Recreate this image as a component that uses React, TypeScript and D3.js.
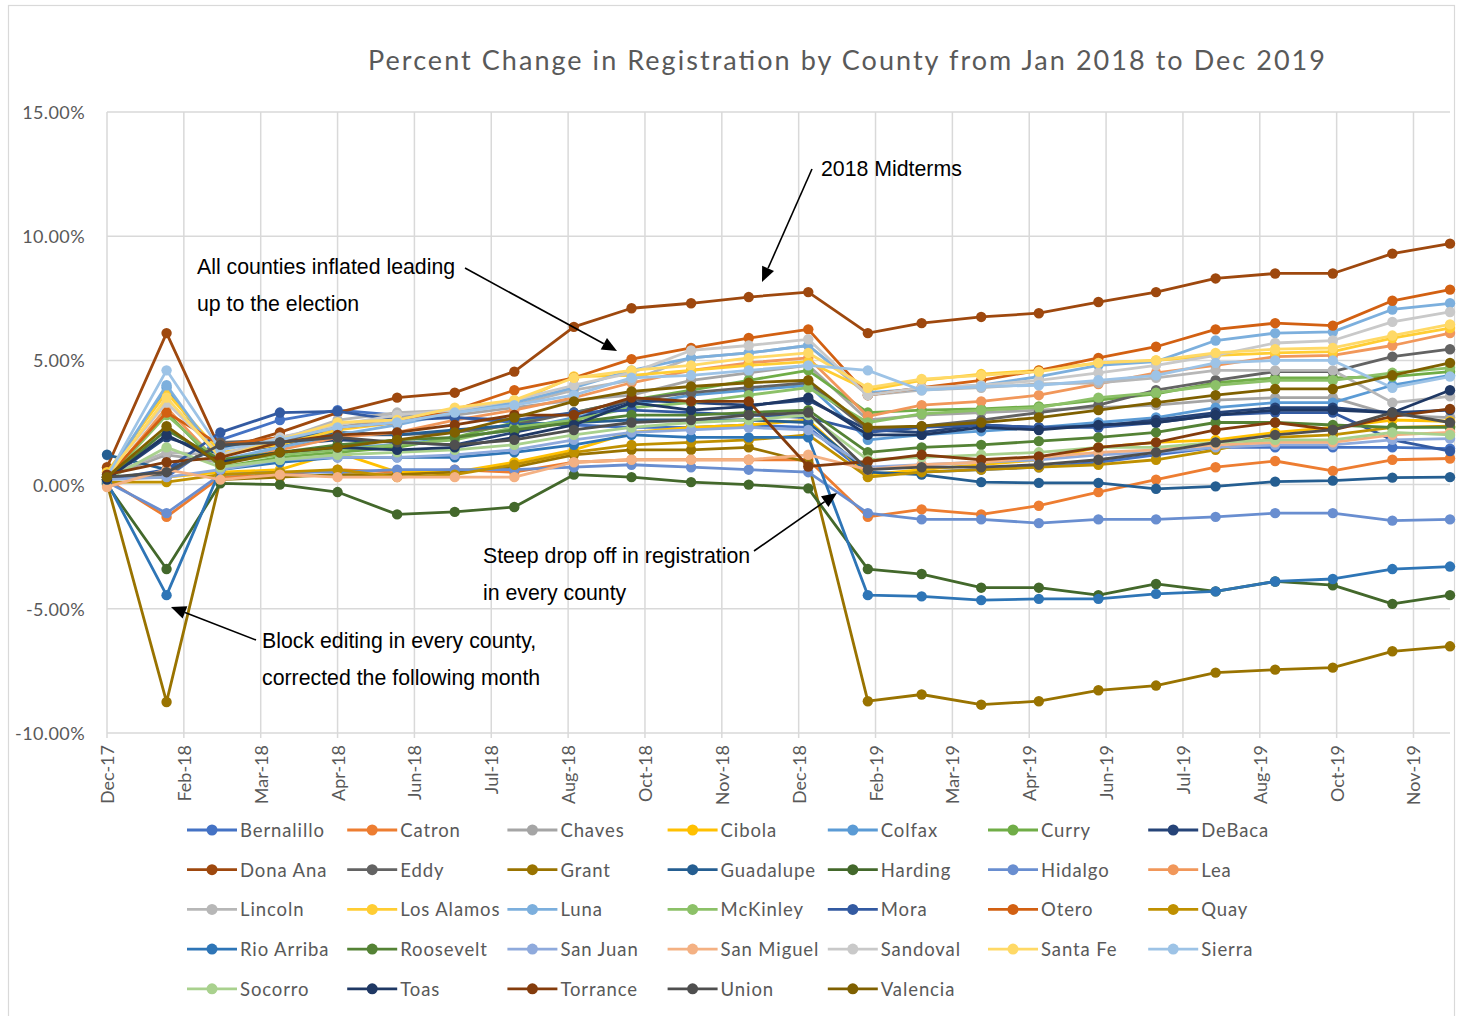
import React from "react";
import * as d3 from "d3";

const monthEnds = [
  "2017-12-31", "2018-01-31", "2018-02-28", "2018-03-31", "2018-04-30", "2018-05-31",
  "2018-06-30", "2018-07-31", "2018-08-31", "2018-09-30", "2018-10-31", "2018-11-30",
  "2018-12-31", "2019-01-31", "2019-02-28", "2019-03-31", "2019-04-30", "2019-05-31",
  "2019-06-30", "2019-07-31", "2019-08-31", "2019-09-30", "2019-10-31", "2019-11-30",
];

const xTickLabels = [
  "Dec-17", "Feb-18", "Mar-18", "Apr-18", "Jun-18", "Jul-18", "Aug-18", "Oct-18", "Nov-18",
  "Dec-18", "Feb-19", "Mar-19", "Apr-19", "Jun-19", "Jul-19", "Aug-19", "Oct-19", "Nov-19",
];
const xTickStepDays = 40;
const yTicks = [-10, -5, 0, 5, 10, 15];

const counties = [
  "Bernalillo", "Catron", "Chaves", "Cibola", "Colfax", "Curry", "DeBaca",
  "Dona Ana", "Eddy", "Grant", "Guadalupe", "Harding", "Hidalgo", "Lea",
  "Lincoln", "Los Alamos", "Luna", "McKinley", "Mora", "Otero", "Quay",
  "Rio Arriba", "Roosevelt", "San Juan", "San Miguel", "Sandoval", "Santa Fe", "Sierra",
  "Socorro", "Toas", "Torrance", "Union", "Valencia",
];

const countyColors = [
  "#4472C4", "#ED7D31", "#A5A5A5", "#FFC000", "#5B9BD5", "#70AD47", "#264478",
  "#9E480E", "#636363", "#997300", "#255E91", "#43682B", "#698ED0", "#F1975A",
  "#B7B7B7", "#FFCD33", "#7CAFDD", "#8CC168", "#335AA1", "#D26012", "#BF9000",
  "#2E75B6", "#548235", "#8FAADC", "#F4B183", "#C9C9C9", "#FFD966", "#9DC3E6",
  "#A9D18E", "#1F3864", "#843C0C", "#4F4F4F", "#7F6000",
];

// percent change values, one per month end
const bernalillo = [0.3, 0.3, 1.8, 2.6, 3.0, 2.8, 2.7, 2.5, 2.4, 2.3, 2.3, 2.4, 2.3, 0.4, 0.5, 0.6, 0.7, 0.9, 1.2, 1.5, 1.5, 1.5, 1.5, 1.45];
const catron = [0.2, -1.3, 0.3, 0.4, 0.6, 0.5, 0.6, 0.5, 0.9, 1.0, 1.0, 1.0, 1.0, -1.3, -1.0, -1.2, -0.85, -0.3, 0.2, 0.7, 0.95, 0.55, 1.0, 1.05];
const chaves = [0.3, 1.2, 0.9, 1.5, 2.3, 2.7, 2.8, 3.1, 3.4, 3.6, 4.2, 4.5, 4.8, 2.6, 2.8, 2.9, 3.0, 3.1, 3.2, 3.4, 3.5, 3.5, 2.8, 2.7];
const cibola = [0.3, 0.3, 0.5, 0.6, 1.3, 0.5, 0.5, 0.9, 1.4, 2.1, 2.3, 2.4, 2.6, 0.4, 0.6, 0.8, 1.0, 1.5, 1.7, 1.8, 2.1, 2.3, 2.6, 2.55];
const colfax = [0.3, 3.9, 0.9, 1.3, 1.5, 1.6, 1.9, 2.2, 2.7, 3.2, 3.6, 3.8, 4.0, 1.8, 2.0, 2.15, 2.3, 2.5, 2.7, 3.1, 3.3, 3.3, 4.0, 4.4];
const curry = [0.2, 2.9, 0.7, 1.1, 1.3, 1.5, 1.9, 2.5, 2.9, 3.4, 3.8, 4.2, 4.6, 2.9, 3.0, 3.05, 3.15, 3.4, 3.65, 4.1, 4.3, 4.3, 4.35, 4.55];
const debaca = [0.2, 1.9, 1.2, 1.6, 1.8, 1.7, 1.6, 2.1, 2.6, 3.4, 3.3, 3.2, 3.4, 2.2, 2.1, 2.4, 2.3, 2.35, 2.6, 2.9, 3.1, 3.1, 2.9, 3.0];
const donaAna = [0.7, 6.1, 1.4, 2.1, 2.9, 3.5, 3.7, 4.55, 6.35, 7.1, 7.3, 7.55, 7.75, 6.1, 6.5, 6.75, 6.9, 7.35, 7.75, 8.3, 8.5, 8.5, 9.3, 9.7];
const eddy = [0.3, 0.4, 1.7, 1.8, 2.0, 2.0, 2.1, 2.4, 2.9, 3.4, 3.7, 3.9, 4.1, 2.2, 2.35, 2.6, 2.9, 3.2, 3.8, 4.2, 4.55, 4.55, 5.15, 5.45];
const grant = [0.05, -8.75, 0.2, 0.3, 0.4, 0.4, 0.5, 0.7, 1.2, 1.4, 1.4, 1.5, 0.9, -8.72, -8.45, -8.86, -8.72, -8.28, -8.09, -7.57, -7.45, -7.37, -6.71, -6.51];
const guadalupe = [1.2, 0.6, 1.5, 1.9, 2.1, 2.0, 2.2, 2.4, 2.5, 2.6, 2.6, 2.6, 2.5, 0.5, 0.4, 0.1, 0.07, 0.07, -0.17, -0.07, 0.12, 0.16, 0.28, 0.3];
const harding = [0.0, -3.4, 0.05, 0.0, -0.3, -1.2, -1.1, -0.9, 0.4, 0.3, 0.1, 0.0, -0.15, -3.4, -3.6, -4.15, -4.15, -4.45, -4.0, -4.3, -3.9, -4.05, -4.8, -4.45];
const hidalgo = [0.1, -1.15, 0.4, 0.5, 0.5, 0.6, 0.6, 0.6, 0.7, 0.8, 0.7, 0.6, 0.5, -1.15, -1.4, -1.4, -1.55, -1.4, -1.4, -1.3, -1.15, -1.15, -1.45, -1.4];
const lea = [0.2, 3.1, 0.8, 1.4, 1.9, 2.1, 2.6, 3.0, 3.5, 4.1, 4.6, 4.9, 5.1, 2.75, 3.2, 3.35, 3.6, 4.05, 4.5, 4.8, 5.15, 5.2, 5.6, 6.1];
const lincoln = [0.4, 1.3, 1.2, 1.8, 2.6, 2.9, 3.0, 3.2, 3.8, 4.2, 5.1, 5.3, 5.6, 3.6, 3.8, 3.9, 4.05, 4.1, 4.3, 4.6, 4.6, 4.6, 3.3, 3.55];
const losAlamos = [0.5, 3.7, 1.3, 1.6, 2.2, 2.5, 3.0, 3.3, 4.35, 4.4, 4.6, 4.8, 4.95, 3.8, 4.2, 4.45, 4.6, 4.9, 5.0, 5.2, 5.3, 5.35, 5.9, 6.3];
const luna = [0.3, 4.0, 1.0, 1.5, 2.0, 2.4, 2.9, 3.3, 3.9, 4.6, 5.1, 5.3, 5.6, 3.7, 3.85, 4.0, 4.35, 4.8, 4.95, 5.8, 6.1, 6.15, 7.05, 7.3];
const mckinley = [0.2, 2.8, 0.9, 1.2, 1.4, 1.6, 1.8, 2.3, 2.6, 3.1, 3.3, 3.6, 3.9, 2.5, 2.85, 3.0, 3.1, 3.5, 3.7, 4.0, 4.2, 4.2, 4.5, 4.7];
const mora = [0.2, 0.6, 2.1, 2.9, 2.95, 2.6, 2.7, 2.6, 2.9, 3.0, 2.9, 2.8, 2.7, 2.1, 2.3, 2.4, 2.3, 2.3, 2.5, 2.8, 2.9, 2.9, 1.8, 1.35];
const otero = [0.3, 2.9, 1.6, 1.9, 2.3, 2.5, 3.0, 3.8, 4.3, 5.05, 5.5, 5.9, 6.25, 3.6, 3.9, 4.2, 4.6, 5.1, 5.55, 6.25, 6.5, 6.4, 7.4, 7.85];
const quay = [0.1, 0.1, 0.4, 0.5, 0.6, 0.3, 0.4, 0.8, 1.3, 1.6, 1.7, 1.8, 2.0, 0.3, 0.5, 0.6, 0.7, 0.8, 1.0, 1.4, 1.9, 2.0, 2.3, 2.35];
const rioArriba = [0.1, -4.45, 0.6, 0.9, 1.1, 1.1, 1.1, 1.3, 1.6, 2.0, 1.9, 1.9, 1.9, -4.45, -4.5, -4.65, -4.6, -4.6, -4.4, -4.3, -3.9, -3.8, -3.4, -3.3];
const roosevelt = [0.2, 2.2, 1.0, 1.3, 1.6, 1.8, 1.9, 2.2, 2.5, 2.8, 2.8, 2.9, 3.0, 1.3, 1.5, 1.6, 1.75, 1.9, 2.1, 2.5, 2.5, 2.4, 2.3, 2.3];
const sanJuan = [0.2, 0.3, 0.6, 1.0, 1.1, 1.1, 1.2, 1.4, 1.8, 2.1, 2.2, 2.3, 2.2, 0.7, 0.8, 0.9, 1.0, 1.2, 1.3, 1.5, 1.6, 1.6, 1.8, 1.85];
const sanMiguel = [-0.1, 0.6, 0.2, 0.4, 0.3, 0.3, 0.3, 0.3, 0.9, 1.0, 1.0, 1.0, 1.2, 0.6, 0.8, 0.9, 1.1, 1.3, 1.4, 1.6, 1.7, 1.7, 2.0, 2.1];
const sandoval = [0.4, 3.3, 1.2, 1.9, 2.4, 2.8, 3.0, 3.4, 4.0, 4.5, 5.4, 5.6, 5.85, 3.6, 3.9, 4.0, 4.2, 4.5, 4.8, 5.2, 5.7, 5.8, 6.55, 6.95];
const santaFe = [0.3, 3.5, 1.1, 1.8, 2.5, 2.6, 3.1, 3.4, 4.3, 4.6, 4.8, 5.1, 5.3, 3.9, 4.25, 4.4, 4.55, 4.9, 5.0, 5.3, 5.45, 5.5, 6.0, 6.45];
const sierra = [0.3, 4.6, 1.4, 1.8, 2.3, 2.5, 2.9, 3.2, 3.6, 4.3, 4.4, 4.6, 4.8, 4.6, 3.8, 3.95, 4.0, 4.2, 4.4, 4.9, 5.0, 5.0, 3.9, 4.35];
const socorro = [0.2, 1.5, 0.7, 1.0, 1.2, 1.3, 1.4, 1.6, 2.0, 2.3, 2.5, 2.6, 2.8, 1.0, 1.1, 1.2, 1.3, 1.5, 1.5, 1.7, 1.8, 1.8, 2.1, 2.0];
const toas = [0.2, 2.0, 0.9, 1.3, 1.5, 1.4, 1.5, 1.9, 2.4, 3.3, 3.0, 3.15, 3.5, 2.0, 2.0, 2.3, 2.2, 2.4, 2.5, 2.8, 3.0, 3.0, 2.9, 3.8];
const torrance = [0.4, 0.9, 1.1, 1.7, 2.0, 2.1, 2.4, 2.8, 2.8, 3.5, 3.35, 3.35, 0.73, 0.93, 1.2, 1.0, 1.13, 1.5, 1.7, 2.2, 2.5, 2.2, 2.75, 3.05];
const union = [0.3, 0.5, 1.6, 1.7, 1.9, 1.7, 1.6, 1.8, 2.2, 2.5, 2.6, 2.8, 2.9, 0.6, 0.7, 0.7, 0.8, 1.0, 1.3, 1.7, 2.0, 2.2, 2.9, 2.5];
const valencia = [0.3, 2.35, 0.8, 1.3, 1.5, 1.8, 2.1, 2.7, 3.35, 3.75, 3.95, 4.1, 4.2, 2.3, 2.35, 2.5, 2.7, 3.0, 3.3, 3.6, 3.85, 3.85, 4.4, 4.9];

const seriesValues = [
  bernalillo, catron, chaves, cibola, colfax, curry, debaca,
  donaAna, eddy, grant, guadalupe, harding, hidalgo, lea,
  lincoln, losAlamos, luna, mckinley, mora, otero, quay,
  rioArriba, roosevelt, sanJuan, sanMiguel, sandoval, santaFe, sierra,
  socorro, toas, torrance, union, valencia,
];

const title = "Percent Change in Registration by County from Jan 2018 to Dec 2019";

type Note = { lines: string[]; x: number; y: number; from: [number, number]; to: [number, number] };
const notes: Note[] = [
  { lines: ["All counties inflated leading", "up to the election"], x: 197, y: 274, from: [465, 268], to: [617, 351] },
  { lines: ["2018 Midterms"], x: 821, y: 176, from: [812, 169], to: [762, 282] },
  { lines: ["Steep drop off in registration", "in every county"], x: 483, y: 563, from: [754, 551], to: [837, 493] },
  { lines: ["Block editing in every county,", "corrected the following month"], x: 262, y: 648, from: [256, 640], to: [171, 607] },
];

const W = 1459;
const H = 1016;
const plot = { left: 107, right: 1450, top: 112, bottom: 733 };
const gridColor = "#D9D9D9";
const textGray = "#595959";
const uiFont = "Lato, 'Open Sans', sans-serif";
const noteFont = "'Liberation Sans', Arial, sans-serif";

function Arrow({ from, to }: { from: [number, number]; to: [number, number] }) {
  const [x1, y1] = from;
  const [x2, y2] = to;
  const dx = x2 - x1;
  const dy = y2 - y1;
  const len = Math.hypot(dx, dy);
  const ux = dx / len;
  const uy = dy / len;
  const headLen = 15;
  const headHalf = 6.5;
  const bx = x2 - ux * headLen;
  const by = y2 - uy * headLen;
  const px = -uy;
  const py = ux;
  const pts = [
    [x2, y2],
    [bx + px * headHalf, by + py * headHalf],
    [bx - px * headHalf, by - py * headHalf],
  ];
  return (
    <g>
      <line x1={x1} y1={y1} x2={bx} y2={by} stroke="#000" strokeWidth={1.6} />
      <polygon points={pts.map((p) => p.join(",")).join(" ")} fill="#000" />
    </g>
  );
}

export default function App() {
  const parse = d3.utcParse("%Y-%m-%d");
  const dates = monthEnds.map((s) => parse(s) as Date);
  const x = d3.scaleUtc().domain([dates[0], dates[dates.length - 1]]).range([plot.left, plot.right]);
  const y = d3.scaleLinear().domain([-10, 15]).range([plot.bottom, plot.top]);
  const tickDates = xTickLabels.map((_, i) => d3.utcDay.offset(dates[0], i * xTickStepDays));
  const line = d3
    .line<number>()
    .x((_, i) => x(dates[i]))
    .y((v) => y(v));
  const fmtPct = (t: number) => (t < 0 ? "-" : "") + Math.abs(t).toFixed(2) + "%";

  const legendCols = 7;
  const legendX0 = 187;
  const legendDX = 160.2;
  const legendY0 = 830;
  const legendDY = 39.7;

  return (
    <svg
      width={W}
      height={H}
      style={{ position: "absolute", left: 0, top: 0, display: "block", background: "#fff" }}
    >
      <rect x={0} y={0} width={W} height={H} fill="#fff" />
      <rect x={8.5} y={5.5} width={1446} height={1020} fill="none" stroke="#D9D9D9" strokeWidth={1.2} />

      <text
        x={846.5}
        y={70}
        textAnchor="middle"
        fontFamily={uiFont}
        fontSize={27}
        fill={textGray}
        textLength={957}
        lengthAdjust="spacing"
      >
        {title}
      </text>

      {/* horizontal gridlines */}
      {yTicks.map((t) => (
        <line key={"h" + t} x1={plot.left} x2={plot.right} y1={y(t)} y2={y(t)} stroke={gridColor} strokeWidth={1.5} />
      ))}
      {/* vertical gridlines */}
      {tickDates.map((d, i) => (
        <g key={"v" + i}>
          <line x1={x(d)} x2={x(d)} y1={plot.top} y2={plot.bottom} stroke={gridColor} strokeWidth={1.5} />
          <line x1={x(d)} x2={x(d)} y1={plot.bottom} y2={plot.bottom + 5} stroke={gridColor} strokeWidth={1.5} />
        </g>
      ))}

      {/* y labels */}
      {yTicks.map((t) => (
        <text
          key={"yl" + t}
          x={85}
          y={y(t)}
          textAnchor="end"
          dominantBaseline="central"
          fontFamily={uiFont}
          fontSize={18}
          letterSpacing={0.4}
          fill={textGray}
        >
          {fmtPct(t)}
        </text>
      ))}

      {/* x labels */}
      {tickDates.map((d, i) => (
        <text
          key={"xl" + i}
          transform={`translate(${x(d)},${plot.bottom + 12}) rotate(-90)`}
          textAnchor="end"
          dominantBaseline="central"
          fontFamily={uiFont}
          fontSize={18}
          fill={textGray}
        >
          {xTickLabels[i]}
        </text>
      ))}

      {/* series */}
      {seriesValues.map((vals, si) => (
        <g key={"s" + si}>
          <path
            d={line(vals) || ""}
            fill="none"
            stroke={countyColors[si]}
            strokeWidth={2.8}
            strokeLinejoin="round"
            strokeLinecap="round"
          />
          {vals.map((v, i) => (
            <circle key={i} cx={x(dates[i])} cy={y(v)} r={5.2} fill={countyColors[si]} />
          ))}
        </g>
      ))}

      {/* annotations */}
      {notes.map((n, ni) => (
        <g key={"n" + ni}>
          {n.lines.map((l, li) => (
            <text key={li} x={n.x} y={n.y + li * 37} fontFamily={noteFont} fontSize={21.3} fill="#000">
              {l}
            </text>
          ))}
          <Arrow from={n.from} to={n.to} />
        </g>
      ))}

      {/* legend */}
      {counties.map((name, i) => {
        const col = i % legendCols;
        const row = Math.floor(i / legendCols);
        const lx = legendX0 + col * legendDX;
        const ly = legendY0 + row * legendDY;
        return (
          <g key={"lg" + i}>
            <line x1={lx} x2={lx + 50} y1={ly} y2={ly} stroke={countyColors[i]} strokeWidth={2.8} />
            <circle cx={lx + 25} cy={ly} r={5.5} fill={countyColors[i]} />
            <text
              x={lx + 53}
              y={ly}
              dominantBaseline="central"
              fontFamily={uiFont}
              fontSize={18.5}
              letterSpacing={0.9}
              fill={textGray}
            >
              {name}
            </text>
          </g>
        );
      })}
    </svg>
  );
}
